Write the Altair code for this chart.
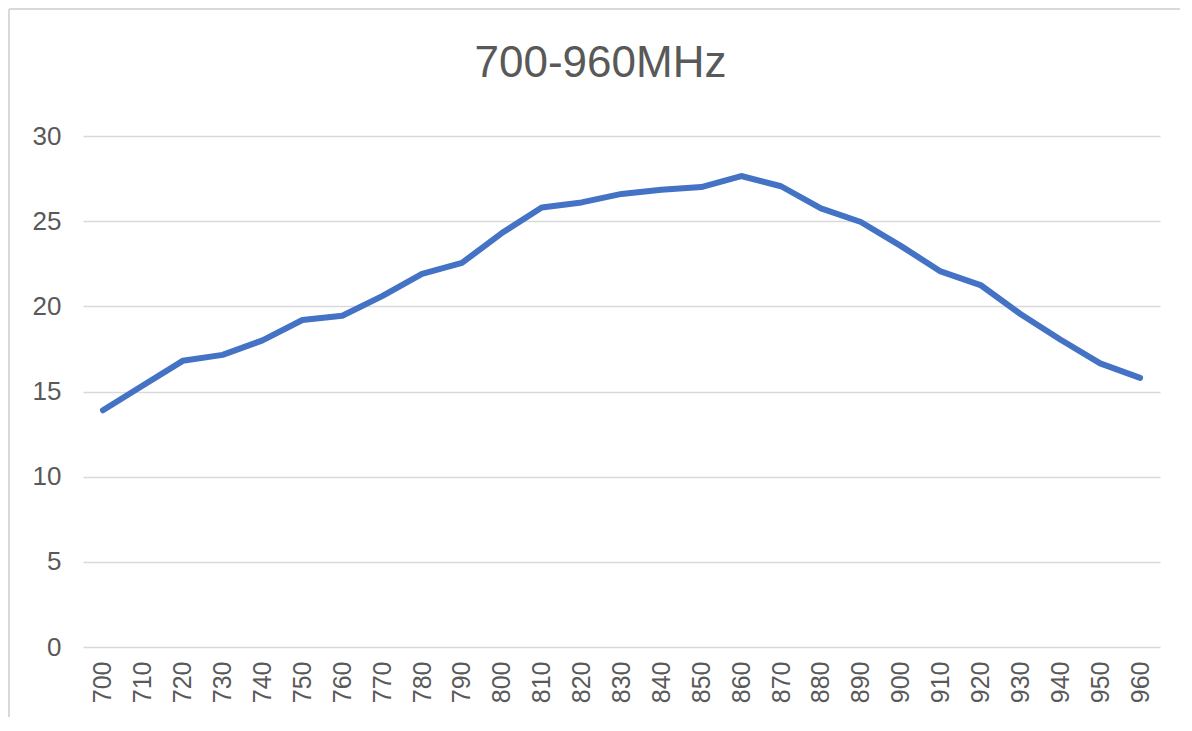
import altair as alt
import pandas as pd

freqs = [700, 710, 720, 730, 740, 750, 760, 770, 780, 790, 800, 810, 820, 830,
         840, 850, 860, 870, 880, 890, 900, 910, 920, 930, 940, 950, 960]
values = [13.9, 15.35, 16.8, 17.15, 18.0, 19.2, 19.45, 20.6, 21.9, 22.55, 24.3,
          25.8, 26.1, 26.6, 26.85, 27.0, 27.65, 27.05, 25.75, 24.95, 23.55,
          22.05, 21.25, 19.55, 18.05, 16.65, 15.8]
y_ticks = [0, 5, 10, 15, 20, 25, 30]
title_text = "700-960MHz"

df = pd.DataFrame({"freq": freqs, "value": values})

FONT = "Liberation Sans"
TEXT = "#595959"
GRID = "#d9d9d9"

line = alt.Chart(df).mark_line(
    color="#4472C4", strokeWidth=6, strokeCap="round", strokeJoin="round"
).encode(
    x=alt.X("freq:O", sort=freqs, title=None,
            scale=alt.Scale(paddingOuter=0.5),
            axis=alt.Axis(labelAngle=-90, labelFontSize=25, labelColor=TEXT,
                          labelFont=FONT, ticks=False, domain=False,
                          labelPadding=14, grid=False)),
    y=alt.Y("value:Q", title=None,
            scale=alt.Scale(domain=[0, 30], nice=False, zero=True),
            axis=alt.Axis(values=y_ticks, labelFontSize=26, labelColor=TEXT,
                          labelFont=FONT, ticks=False, domain=False,
                          labelPadding=22, grid=True, gridColor=GRID,
                          gridWidth=1.6)),
)

border_left = alt.Chart(df).mark_rule(color=GRID, strokeWidth=2).encode(
    x=alt.value(-74), y=alt.value(-127), y2=alt.value(600)
)
border_top = alt.Chart(df).mark_rule(color=GRID, strokeWidth=2).encode(
    x=alt.value(-74), x2=alt.value(1110), y=alt.value(-127)
)

chart = alt.layer(border_left, border_top, line).properties(
    width=1077,
    height=511,
    padding={"left": 75, "top": 128, "right": 20, "bottom": 70},
    autosize=alt.AutoSizeParams(type="none"),
    title=alt.TitleParams(title_text, fontSize=44, font=FONT, color=TEXT,
                          fontWeight="normal", anchor="middle", frame="group",
                          baseline="alphabetic", dx=-21, offset=-113),
).configure(background="white", view=alt.ViewConfig(stroke=None))

chart.save("out.html", embed_options={"renderer": "svg", "actions": False})
